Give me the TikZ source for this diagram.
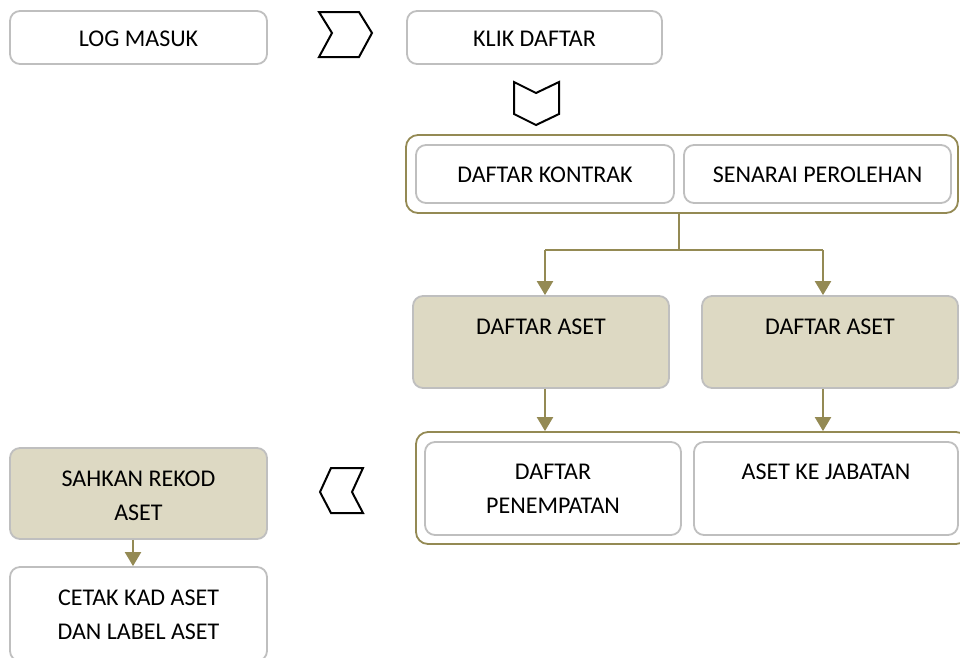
\documentclass[tikz,border=0pt]{standalone}
\usepackage{fontspec}
\setmainfont{Carlito}
\usetikzlibrary{arrows.meta}
\definecolor{olive}{HTML}{948A54}
\definecolor{tan}{HTML}{DDD9C3}
\definecolor{gborder}{HTML}{BFBFBF}
\begin{document}
\begin{tikzpicture}[x=1pt,y=-1pt,
  font=\fontsize{24}{34}\selectfont,
  wbox/.style={draw=gborder,line width=1.8pt,fill=white,rounded corners=10pt,inner sep=0pt,minimum width=#1},
  tbox/.style={draw=gborder,line width=1.8pt,fill=tan,rounded corners=10pt,inner sep=0pt,minimum width=#1},
  grp/.style={draw=olive,line width=1.8pt,fill=white,rounded corners=12pt,inner sep=0pt,minimum width=#1},
  txt/.style={inner sep=0pt,align=center},
  chev/.style={draw=black,line width=2pt,line join=miter},
  conn/.style={draw=olive,line width=2.2pt,-{Triangle[length=14pt,width=16pt]}},
  line/.style={draw=olive,line width=2.2pt}
]
\useasboundingbox (0,0) rectangle (960,657);
\begin{scope}
\clip (0,0) rectangle (960,657);
% top row
\node[wbox=257pt,minimum height=53pt] (logm) at (138.5,37.5) {};
\node[txt] (logmt) at (138.5,39) {LOG MASUK};
\node[wbox=255pt,minimum height=53pt] (klik) at (534.5,37.5) {};
\node[txt] (klikt) at (534.5,39) {KLIK DAFTAR};
% chevrons
\draw[chev] (319,12) -- (359,12) -- (372,33) -- (359,57) -- (319,57) -- (332,33) -- cycle;
\draw[chev] (514,82) -- (536,93) -- (559,82) -- (559,114) -- (536,125) -- (514,114) -- cycle;
\draw[chev] (331,468) -- (363,468) -- (352,492) -- (363,513) -- (331,513) -- (320,492) -- cycle;
% group 1
\node[grp=552pt,minimum height=78pt] (g1) at (682,174) {};
\node[wbox=258pt,minimum height=58pt] (kontrak) at (545,174) {};
\node[txt] (kontrakt) at (545,175) {DAFTAR KONTRAK};
\node[wbox=267pt,minimum height=58pt] (senarai) at (817.5,174) {};
\node[txt] (senarait) at (817.5,175) {SENARAI PEROLEHAN};
% asset boxes
\node[tbox=256pt,minimum height=92pt] (aset1) at (541,342) {};
\node[txt] (aset1t) at (541,327) {DAFTAR ASET};
\node[tbox=256pt,minimum height=92pt] (aset2) at (830,342) {};
\node[txt] (aset2t) at (830,327) {DAFTAR ASET};
% group 2
\node[grp=552pt,minimum height=112pt] (g2) at (692,488) {};
\node[wbox=256pt,minimum height=93pt] (penem) at (553,488.5) {};
\node[txt] (penemt) at (553,489) {DAFTAR\\PENEMPATAN};
\node[wbox=264pt,minimum height=93pt] (jab) at (826,488.5) {};
\node[txt] (jabt) at (826,472) {ASET KE JABATAN};
% left column
\node[tbox=257pt,minimum height=91pt] (sahkan) at (138.5,493.5) {};
\node[txt] (sahkant) at (138.5,496) {SAHKAN REKOD\\ASET};
\node[wbox=257pt,minimum height=94pt] (cetak) at (138.5,614) {};
\node[txt] (cetakt) at (138.5,615) {CETAK KAD ASET\\DAN LABEL ASET};
% connectors
\coordinate (split) at (679,250);
\coordinate (sl) at (545,250);
\coordinate (sr) at (823,250);
\coordinate (lc) at (133,0);
\draw[line] (g1.south -| split) -- (split);
\draw[line] (sl) -- (sr);
\draw[conn] (sl) -- (sl |- aset1.north);
\draw[conn] (sr) -- (sr |- aset2.north);
\draw[conn] (sl |- aset1.south) -- (sl |- g2.north);
\draw[conn] (sr |- aset2.south) -- (sr |- g2.north);
\draw[conn] (lc |- sahkan.south) -- (lc |- cetak.north);
\end{scope}
\end{tikzpicture}
\end{document}
